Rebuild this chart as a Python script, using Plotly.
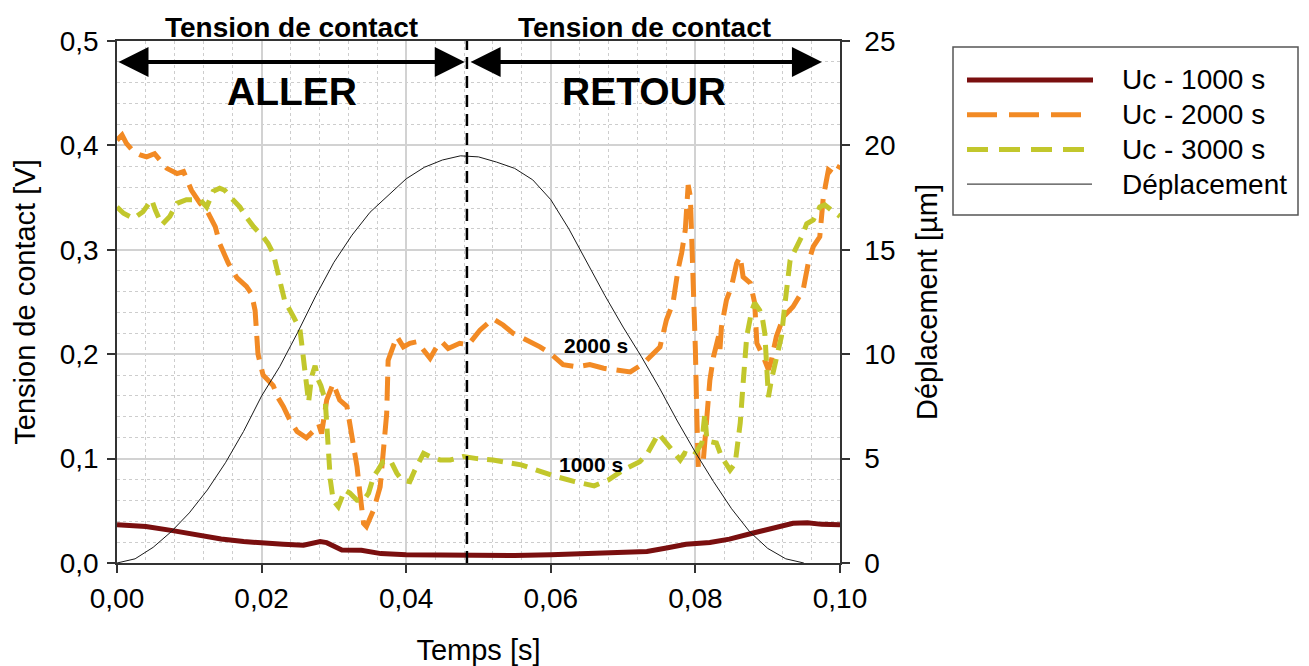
import plotly.graph_objects as go

# ---------------- data ----------------
t_dep = [0, 0.0025, 0.005, 0.0075, 0.01, 0.0125, 0.015, 0.0175, 0.02, 0.0225,
         0.025, 0.0275, 0.03, 0.0325, 0.035, 0.0375, 0.04, 0.0425, 0.045, 0.0475,
         0.05, 0.0525, 0.055, 0.0575, 0.06, 0.0625, 0.065, 0.0675, 0.07, 0.0725,
         0.075, 0.0775, 0.08, 0.0825, 0.085, 0.0875, 0.09, 0.0925, 0.095]
deplacement = [0, 0.2, 0.75, 1.5, 2.4, 3.5, 4.8, 6.3, 8.0, 9.4,
               11.05, 12.8, 14.4, 15.7, 16.8, 17.6, 18.4, 18.95, 19.3, 19.5,
               19.45, 19.2, 18.9, 18.35, 17.4, 16.0, 14.4, 12.8, 11.3, 9.9,
               8.4, 6.8, 5.3, 3.9, 2.6, 1.5, 0.7, 0.2, 0.0]

t_1000 = [0, 0.004, 0.0077, 0.011, 0.0144, 0.0175, 0.0198, 0.023, 0.0258, 0.0272,
          0.0281, 0.029, 0.0311, 0.0338, 0.0365, 0.04, 0.045, 0.0486, 0.055, 0.06,
          0.0673, 0.0733, 0.076, 0.0787, 0.082, 0.0847, 0.088, 0.0914, 0.0935,
          0.0955, 0.0975, 0.1]
uc_1000 = [0.0366, 0.035, 0.031, 0.027, 0.023, 0.0205, 0.019, 0.018, 0.017, 0.0185,
           0.0205, 0.0195, 0.0125, 0.0122, 0.009, 0.008, 0.0075, 0.007, 0.0072, 0.008,
           0.0095, 0.011, 0.0143, 0.018, 0.0197, 0.0229, 0.0287, 0.035, 0.038,
           0.0385, 0.037, 0.0366]

t_2000 = [0, 0.0007, 0.0013, 0.0023, 0.0032, 0.0041, 0.0052, 0.0069, 0.0083, 0.0092,
          0.0103, 0.0115, 0.0124, 0.0136, 0.0142, 0.0154, 0.0166, 0.0179, 0.0186, 0.0191,
          0.0195, 0.0202, 0.0216, 0.0223, 0.023, 0.0239, 0.0249, 0.0262, 0.0274, 0.0279,
          0.0283, 0.029, 0.0299, 0.0308, 0.0318, 0.0322, 0.0332, 0.0336, 0.0341, 0.0345,
          0.0355, 0.0364, 0.0368, 0.0373, 0.0375, 0.0382, 0.0387, 0.0396, 0.0405, 0.0415,
          0.0424, 0.0433, 0.0442, 0.0449, 0.0458, 0.0474, 0.0486, 0.0502, 0.052, 0.0534,
          0.0548, 0.0567, 0.0585, 0.0599, 0.0617, 0.0636, 0.0654, 0.0673, 0.0691, 0.071,
          0.0728, 0.0742, 0.0751, 0.076, 0.0769, 0.0776, 0.0781, 0.0786, 0.0788, 0.079,
          0.0793, 0.0795, 0.0797, 0.08, 0.0802, 0.0804, 0.0811, 0.0818, 0.082, 0.0825,
          0.0832, 0.0834, 0.0836, 0.0843, 0.085, 0.0857, 0.0862, 0.0866, 0.0876, 0.0882,
          0.0885, 0.0894, 0.0901, 0.0905, 0.0912, 0.0922, 0.0935, 0.0949, 0.0956, 0.0963,
          0.0972, 0.0977, 0.0984, 0.0993, 0.1]
uc_2000 = [0.405, 0.41, 0.402, 0.394, 0.391, 0.389, 0.392, 0.378, 0.373, 0.375,
           0.357, 0.3445, 0.338, 0.322, 0.306, 0.287, 0.273, 0.265, 0.258, 0.242,
           0.2, 0.18, 0.17, 0.158, 0.15, 0.137, 0.126, 0.12, 0.128, 0.133,
           0.124, 0.156, 0.172, 0.156, 0.15, 0.134, 0.092, 0.067, 0.038, 0.035,
           0.051, 0.073, 0.105, 0.143, 0.194, 0.207, 0.217, 0.207, 0.2105, 0.212,
           0.204, 0.196, 0.207, 0.212, 0.2055, 0.2105, 0.209, 0.223, 0.234, 0.228,
           0.22, 0.2135, 0.207, 0.201, 0.19, 0.188, 0.19, 0.1865, 0.185, 0.183,
           0.191, 0.201, 0.207, 0.233, 0.249, 0.281, 0.297, 0.319, 0.341, 0.362,
           0.351, 0.3125, 0.268, 0.204, 0.14, 0.092, 0.0987, 0.159, 0.175, 0.1975,
           0.217, 0.205, 0.226, 0.252, 0.265, 0.287, 0.2935, 0.274, 0.268, 0.249,
           0.2105, 0.1975, 0.185, 0.194, 0.217, 0.236, 0.2455, 0.2615, 0.287, 0.303,
           0.3125, 0.351, 0.3765, 0.372, 0.381]

t_3000 = [0, 0.0009, 0.0023, 0.0036, 0.0048, 0.0053, 0.0062, 0.0073, 0.0083, 0.0096,
          0.0106, 0.0115, 0.0124, 0.0133, 0.0142, 0.0149, 0.0159, 0.017, 0.0177, 0.0189,
          0.0202, 0.0209, 0.0216, 0.0223, 0.0232, 0.0244, 0.0253, 0.0256, 0.026, 0.0265,
          0.0269, 0.0274, 0.0278, 0.0282, 0.0288, 0.029, 0.0292, 0.0295, 0.0299, 0.0306,
          0.0315, 0.0322, 0.0332, 0.0341, 0.0348, 0.0355, 0.0361, 0.0368, 0.0378, 0.0387,
          0.0394, 0.0405, 0.0412, 0.0424, 0.0433, 0.0447, 0.0461, 0.0479, 0.0498, 0.052,
          0.0559, 0.058, 0.0606, 0.0633, 0.066, 0.068, 0.07, 0.0723, 0.0733, 0.0749,
          0.0756, 0.0765, 0.0779, 0.0785, 0.0797, 0.0809, 0.0813, 0.0816, 0.0829, 0.0836,
          0.0848, 0.0855, 0.0862, 0.0866, 0.0871, 0.0878, 0.0882, 0.0889, 0.0893, 0.0896,
          0.0899, 0.0901, 0.0905, 0.0912, 0.0919, 0.0924, 0.0931, 0.0938, 0.0947, 0.0954,
          0.0963, 0.0972, 0.0979, 0.0988, 0.1]
uc_3000 = [0.341, 0.335, 0.33, 0.3365, 0.348, 0.338, 0.324, 0.332, 0.3445, 0.348,
           0.348, 0.348, 0.341, 0.356, 0.359, 0.357, 0.349, 0.341, 0.333, 0.322,
           0.3125, 0.306, 0.2965, 0.275, 0.251, 0.236, 0.224, 0.207, 0.18, 0.154,
           0.178, 0.189, 0.176, 0.17, 0.156, 0.13, 0.1, 0.08, 0.06, 0.054,
           0.07, 0.067, 0.06, 0.06, 0.067, 0.083, 0.089, 0.097, 0.0987, 0.086,
           0.0795, 0.078, 0.089, 0.105, 0.102, 0.0987, 0.0987, 0.102, 0.1, 0.0987,
           0.094, 0.089, 0.083, 0.078, 0.0739, 0.0796, 0.089, 0.097, 0.104, 0.124,
           0.118, 0.111, 0.0987, 0.105, 0.102, 0.115, 0.143, 0.117, 0.115, 0.102,
           0.089, 0.0955, 0.134, 0.172, 0.217, 0.242, 0.249, 0.242, 0.233, 0.22,
           0.188, 0.159, 0.175, 0.1975, 0.217, 0.249, 0.29, 0.3, 0.3125, 0.325,
           0.3285, 0.341, 0.343, 0.338, 0.332]

series_names = ["Uc - 1000 s", "Uc - 2000 s", "Uc - 3000 s", "Déplacement"]
t_turn = 0.0484       # instant of reversal (dashed line)
t_arrow_end = 0.0975  # end of RETOUR arrow
v_arrow = 0.48        # height of the arrows (V)
x_ticks = [0, 0.02, 0.04, 0.06, 0.08, 0.10]

# ---------------- styles ----------------
FONT = "Liberation Sans, Arial, sans-serif"
C_1000 = "#7a0f0f"
C_2000 = "#f28a24"
C_3000 = "#c2c72c"
C_DEP = "#1a1a1a"

fig = go.Figure()
fig.add_trace(go.Scatter(x=t_1000, y=uc_1000, mode="lines", name=series_names[0],
                         line=dict(color=C_1000, width=5), showlegend=False))
fig.add_trace(go.Scatter(x=t_2000, y=uc_2000, mode="lines", name=series_names[1],
                         line=dict(color=C_2000, width=5, dash="24px,10px"), showlegend=False))
fig.add_trace(go.Scatter(x=t_3000, y=uc_3000, mode="lines", name=series_names[2],
                         line=dict(color=C_3000, width=5, dash="16px,9px"), showlegend=False))
fig.add_trace(go.Scatter(x=t_dep, y=deplacement, mode="lines", name=series_names[3],
                         line=dict(color=C_DEP, width=1), yaxis="y2", showlegend=False))

grid_major = "#d2d2d2"
grid_minor = "#cdcdcd"
axis_common = dict(showline=True, linecolor="#333333", linewidth=1.5, ticks="outside",
                   ticklen=8, tickcolor="#333333", tickwidth=1.5,
                   tickfont=dict(family=FONT, size=28, color="black"),
                   zeroline=False, automargin=False)
TITLE_SIZE = 29

fig.update_layout(
    width=1309, height=666,
    margin=dict(l=117, r=469, t=41, b=103),
    paper_bgcolor="white", plot_bgcolor="white",
    separators=", ",
    font=dict(family=FONT, color="black"),
    xaxis=dict(range=[0, 0.1], tickvals=x_ticks, tickformat=".2f", mirror=True,
               showgrid=True, gridcolor=grid_major, gridwidth=1.5,
               minor=dict(dtick=0.004, showgrid=True, griddash="dot", gridcolor=grid_minor, gridwidth=1),
               title=dict(text="Temps [s]", font=dict(family=FONT, size=TITLE_SIZE), standoff=26),
               ticklabelstandoff=2,
               **axis_common),
    yaxis=dict(range=[0, 0.5], dtick=0.1, tickformat=".1f", mirror=False,
               showgrid=True, gridcolor=grid_major, gridwidth=1.5,
               minor=dict(dtick=0.02, showgrid=True, griddash="dot", gridcolor=grid_minor, gridwidth=1),
               title=dict(text="Tension de contact [V]", font=dict(family=FONT, size=TITLE_SIZE), standoff=16),
               ticklabelstandoff=3,
               **axis_common),
    yaxis2=dict(range=[0, 25], dtick=5, overlaying="y", side="right", showgrid=False,
                title=dict(text="Déplacement [µm]", font=dict(family=FONT, size=TITLE_SIZE), standoff=22),
                ticklabelstandoff=9,
                **axis_common),
)

# reversal line
fig.add_shape(type="line", xref="x", yref="paper", x0=t_turn, x1=t_turn, y0=0, y1=1,
              line=dict(color="black", width=2.5, dash="12px,7px"))

# double arrows
for a0, a1 in [(0, t_turn - 0.0003), (t_turn + 0.0003, t_arrow_end)]:
    fig.add_annotation(x=a1, y=v_arrow, ax=a0, ay=v_arrow, xref="x", yref="y",
                       axref="x", ayref="y", text="", showarrow=True,
                       arrowhead=2, arrowside="end+start", arrowsize=1.5,
                       arrowwidth=4, arrowcolor="black")

bold = dict(family=FONT, color="black")
for xc, lab in [(t_turn / 2, "ALLER"), ((t_turn + t_arrow_end) / 2, "RETOUR")]:
    fig.add_annotation(x=xc, y=v_arrow, xref="x", yref="y", yshift=-30, text="<b>%s</b>" % lab,
                       showarrow=False, yanchor="middle", font=dict(size=39, **bold))
    fig.add_annotation(x=xc, y=1, xref="x", yref="paper", yshift=14, text="<b>Tension de contact</b>",
                       showarrow=False, yanchor="middle", font=dict(size=28, **bold))

# curve labels
fig.add_annotation(x=0.0663, y=0.208, xref="x", yref="y", text="<b>2000 s</b>",
                   showarrow=False, font=dict(size=21, **bold))
fig.add_annotation(x=0.0655, y=0.094, xref="x", yref="y", text="<b>1000 s</b>",
                   showarrow=False, font=dict(size=21, **bold))

# ---------------- legend (drawn) ----------------
pl, pr, pt, pb = 117.0, 840.0, 41.0, 563.0
def px(x):
    return (x - pl) / (pr - pl)
def py(y):
    return (pb - y) / (pb - pt)

fig.add_shape(type="rect", xref="paper", yref="paper", x0=px(953), x1=px(1298), y0=py(215), y1=py(47),
              line=dict(color="#555555", width=1.5), fillcolor="white")
leg_styles = [(C_1000, 5, "solid", 1093), (C_2000, 5, "30px,12px", 1082),
              (C_3000, 5, "21px,11px", 1088), (C_DEP, 1, "solid", 1092)]
for i, (name, (col, w, dash, xend)) in enumerate(zip(series_names, leg_styles)):
    yy = 80 + i * 34.7
    fig.add_shape(type="line", xref="paper", yref="paper", x0=px(967), x1=px(xend),
                  y0=py(yy), y1=py(yy), line=dict(color=col, width=w, dash=dash))
    fig.add_annotation(x=px(1120), y=py(yy), xref="paper", yref="paper", text=name,
                       showarrow=False, xanchor="left", yanchor="middle",
                       font=dict(family=FONT, size=28, color="black"))

fig.write_html("out.html", post_script="document.body.style.margin='0';",
               config={"displayModeBar": False})
